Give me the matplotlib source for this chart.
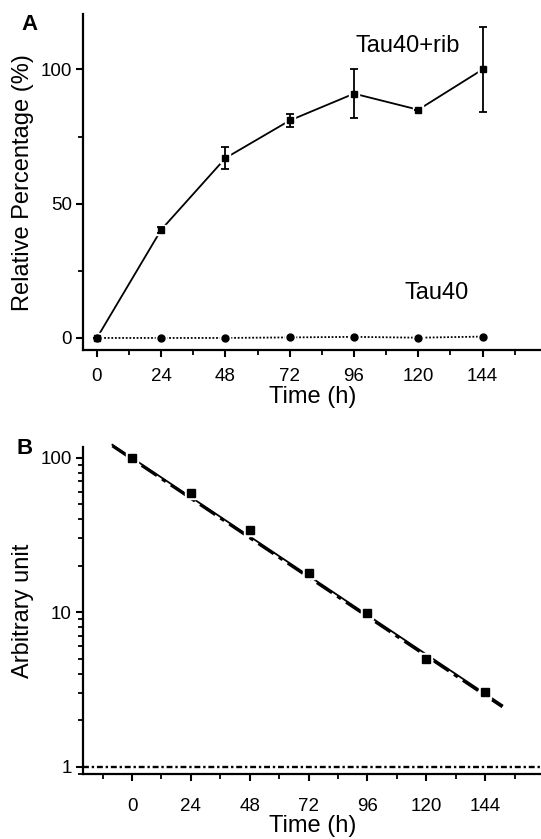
import numpy as np
import matplotlib
matplotlib.use('Agg')
import matplotlib.pyplot as plt
from matplotlib.ticker import MultipleLocator, FixedLocator, LogLocator, NullFormatter

plt.rcParams['font.family'] = ['Liberation Sans', 'DejaVu Sans']

# panel A
time_a = [0, 24, 48, 72, 96, 120, 144]
tau40_rib = [0, 40.3, 67, 81, 91, 85, 100]
tau40_rib_err = [0, 1.2, 4.2, 2.5, 9, 0, 15.7]
tau40 = [0, 0, 0, 0.2, 0.4, 0.1, 0.5]

# panel B
time_b = [0, 24, 48, 72, 96, 120, 144]
signal_b = [100, 59, 34, 18, 9.9, 4.95, 3.05]
fit1_t = [-8, 151]
fit1_y = [121, 2.5]
fit2_t = [-8, 151]
fit2_y = [119, 2.44]

fig = plt.figure(figsize=(5.41, 8.39), dpi=100)
axA = fig.add_axes([0.1534, 0.5828, 0.85, 0.4])
axB = fig.add_axes([0.1534, 0.0775, 0.85, 0.3897])

for ax in (axA, axB):
    ax.spines['top'].set_visible(False)
    ax.spines['right'].set_visible(False)
    ax.spines['left'].set_linewidth(1.6)
    ax.spines['bottom'].set_linewidth(1.6)
    ax.tick_params(which='major', direction='out', length=5, width=1.5, labelsize=13.5, pad=3)
    ax.tick_params(which='minor', direction='out', length=3.5, width=1.3)
    ax.set_xticks(time_a)
    ax.xaxis.set_minor_locator(MultipleLocator(12))

# ---- A ----
axA.plot(time_a, tau40, linestyle=(0, (1, 1)), color='black', linewidth=1.3, zorder=2)
axA.plot(time_a, tau40, 'o', color='white', markersize=7.5, zorder=3)
axA.plot(time_a, tau40, 'o', color='black', markersize=5, zorder=4)

axA.plot(time_a, tau40_rib, '-', color='black', linewidth=1.3, zorder=2)
axA.plot(time_a, tau40_rib, 's', color='white', markersize=7.5, zorder=3)
axA.plot(time_a, tau40_rib, 's', color='black', markersize=4.3, zorder=4)
axA.errorbar(time_a, tau40_rib, yerr=tau40_rib_err, fmt='none', ecolor='black',
             elinewidth=1.3, capsize=3, capthick=1.3, zorder=5)

axA.set_xlim(-5.2, 166.5)
axA.set_ylim(-4.5, 120.5)
axA.set_yticks([0, 50, 100])
axA.yaxis.set_minor_locator(FixedLocator([25, 75]))
axA.tick_params(axis='x', which='major', pad=8)
axA.set_xlabel('Time (h)', fontsize=17, labelpad=1)
axA.set_ylabel('Relative Percentage (%)', fontsize=17, labelpad=5)
axA.text(116, 108.6, 'Tau40+rib', fontsize=17, ha='center', va='center')
axA.text(126.8, 16.8, 'Tau40', fontsize=17, ha='center', va='center')
fig.text(29 / 541, 1 - 25 / 839, 'A', fontsize=16, fontweight='bold', ha='center', va='center')

# ---- B ----
axB.set_yscale('log')
axB.plot(fit1_t, fit1_y, '-', color='black', linewidth=1.3, zorder=2, clip_on=False)
axB.plot(fit2_t, fit2_y, linestyle=(0, (6, 2, 1.5, 2)), color='black', linewidth=2.2, zorder=2,
         clip_on=False)
axB.plot(time_b, signal_b, 's', color='white', markersize=9, zorder=3)
axB.plot(time_b, signal_b, 's', color='black', markersize=6.3, zorder=4)
axB.axhline(1, color='black', linewidth=1.7, linestyle=(0, (2.5, 1.2, 1, 1.2)))

axB.set_xlim(-20, 167.5)
axB.set_ylim(0.897, 117)
axB.set_yticks([1, 10, 100])
axB.set_yticklabels(['1', '10', '100'])
axB.yaxis.set_minor_locator(LogLocator(base=10, subs=np.arange(2, 10)))
axB.yaxis.set_minor_formatter(NullFormatter())
axB.tick_params(axis='x', which='major', pad=12)
axB.set_xlabel('Time (h)', fontsize=17, labelpad=0)
axB.set_ylabel('Arbitrary unit', fontsize=17, labelpad=5)
fig.text(25 / 541, 1 - 448 / 839, 'B', fontsize=16, fontweight='bold', ha='center', va='center')

fig.savefig('out.png', dpi=100)
